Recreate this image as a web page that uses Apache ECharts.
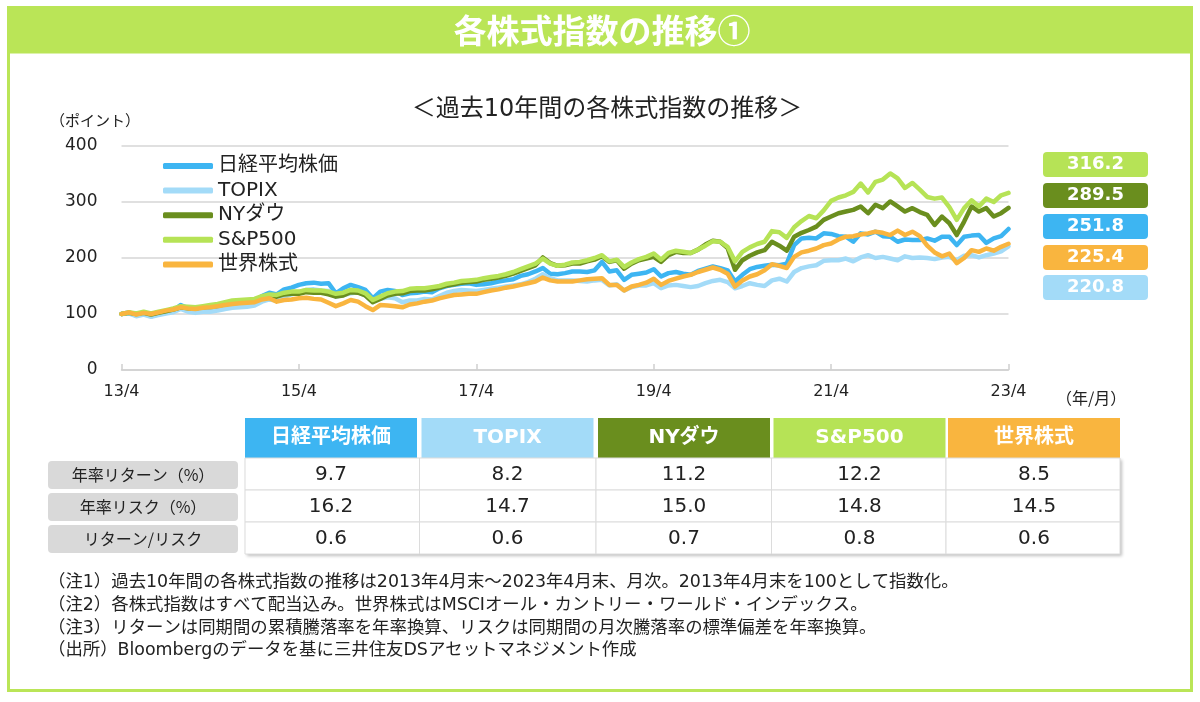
<!DOCTYPE html>
<html><head><meta charset="utf-8">
<script src="https://cdn.jsdelivr.net/npm/echarts@6/dist/echarts.min.js"></script>
<style>html,body{margin:0;padding:0;background:#fff}#c{width:1200px;height:702px}</style>
</head><body><div id="c"></div>
<script>
// ---- data ----
const seriesNames = ['日経平均株価','TOPIX','NYダウ','S&P500','世界株式'];
const months = [];
for (let y = 2013, m = 4; months.length < 121; ) { months.push(y + '/' + m); m++; if (m > 12) { m = 1; y++; } }

const nikkei = [100,103,97,101,96,100,103,106,116,110,
107,109,108,110,113,118,119,120,122,132,
138,135,144,147,152,155,156,154,155,137,
146,152,148,143,128,140,143,141,134,137,
138,140,139,146,150,152,154,155,152,153,
155,158,160,162,168,171,176,182,172,171,
173,176,176,175,178,193,176,178,161,170,
172,174,180,167,173,175,172,170,177,181,
185,182,178,158,170,180,184,186,188,187,
190,223,235,236,235,244,243,239,238,229,
244,242,247,239,238,229,233,232,232,235,
231,238,238,223,238,240,241,227,235,239,
251.8];
const topix = [100,101,96,99,95,98,101,103,109,104,
102,104,104,106,109,111,112,113,115,122,
126,124,131,135,139,143,144,142,141,131,
134,137,139,133,124,127,130,128,121,124,
124,127,126,132,138,141,143,142,141,143,
145,147,149,151,153,157,163,171,164,160,
160,160,159,158,160,161,151,153,142,148,
151,151,155,146,151,152,150,148,150,155,
159,161,157,146,150,155,152,150,160,163,
158,175,182,185,187,195,196,196,199,194,
201,205,200,202,199,196,203,200,201,200,
198,201,202,196,204,205,201,205,208,212,
220.8];
const nyDow = [100,102,100,102,99,102,105,108,112,110,
110,112,114,116,118,121,121,122,124,129,
132,131,135,136,136,139,138,138,135,131,
133,139,138,133,121,127,133,136,137,141,
142,142,144,147,151,153,156,157,158,161,
163,165,168,172,177,182,187,201,191,186,
187,190,190,194,197,203,193,196,181,190,
196,199,202,193,205,211,209,209,215,224,
231,229,218,179,196,204,210,214,229,222,
213,238,245,250,256,268,274,280,283,286,
292,280,295,289,301,292,283,289,282,277,
259,274,262,241,265,292,283,289,274,280,
289.5];
const sp500 = [100,103,101,104,101,104,107,110,114,113,
112,114,116,118,121,124,125,126,127,132,
135,134,138,140,140,143,142,142,140,136,
138,143,142,137,125,131,137,140,141,145,
146,146,148,150,154,156,159,160,161,164,
166,168,171,175,180,185,190,199,190,186,
188,192,193,196,200,205,194,197,184,192,
198,202,208,197,209,213,211,209,215,222,
230,229,220,194,211,219,225,229,248,246,
236,255,266,275,271,285,302,308,312,318,
333,317,336,340,351,342,325,334,322,309,
306,308,291,268,289,303,292,306,300,312,
316.2];
const world = [100,103,99,102,100,103,106,108,112,110,
109,111,112,114,116,118,119,120,121,126,
128,122,125,126,128,129,127,126,120,114,
119,125,122,114,107,116,115,114,112,117,
119,122,124,128,131,134,135,136,136,139,
142,144,147,149,152,155,158,165,160,158,
158,158,160,162,163,164,152,152,142,149,
152,156,163,152,159,163,167,170,175,179,
183,179,172,149,160,167,171,178,189,186,
182,202,210,213,217,223,226,233,238,239,
242,244,247,245,241,249,241,247,239,222,
210,203,208,191,200,214,211,217,213,220,
225.4];
const seriesData = [nikkei, topix, nyDow, sp500, world];
const colors = ['#3db5f2','#a3dbf8','#6a8e1e','#b6e356','#f9b53f'];

const yTicks = [0,100,200,300,400];
const annualReturn = [9.7, 8.2, 11.2, 12.2, 8.5];
const annualRisk = [16.2, 14.7, 15.0, 14.8, 14.5];
const returnRisk = [0.6, 0.6, 0.7, 0.8, 0.6];
const rowLabels = ['年率リターン（%）','年率リスク（%）','リターン/リスク'];
const notes = [
  '（注1）過去10年間の各株式指数の推移は2013年4月末～2023年4月末、月次。2013年4月末を100として指数化。',
  '（注2）各株式指数はすべて配当込み。世界株式はMSCIオール・カントリー・ワールド・インデックス。',
  '（注3）リターンは同期間の累積騰落率を年率換算、リスクは同期間の月次騰落率の標準偏差を年率換算。',
  '（出所）Bloombergのデータを基に三井住友DSアセットマネジメント作成'
];

// ---- layout ----
const LATIN = "'DejaVu Sans','Noto Sans CJK JP',sans-serif";
const CJK = "'Noto Sans CJK JP','DejaVu Sans',sans-serif";
const GREEN = '#bae557';
const gfx = [];
gfx.push({type:'rect', shape:{x:7,y:6,width:1186,height:47}, style:{fill:GREEN}, z:1});
gfx.push({type:'rect', shape:{x:8.5,y:52,width:1183,height:638.5}, style:{fill:null,stroke:GREEN,lineWidth:3}, z:1});
gfx.push({type:'text', x:602, y:30, style:{text:'各株式指数の推移①', fill:'#fff', font:'bold 33px ' + CJK, align:'center', verticalAlign:'middle'}, z:2});
gfx.push({type:'text', x:607, y:110, style:{text:'＜過去10年間の各株式指数の推移＞', fill:'#222', font:'24px ' + LATIN, align:'center', verticalAlign:'middle'}, z:2});
gfx.push({type:'text', x:50, y:120, style:{text:'（ポイント）', fill:'#222', font:'15px ' + CJK, align:'left', verticalAlign:'middle'}, z:2});
gfx.push({type:'text', x:1056, y:398, style:{text:'（年/月）', fill:'#222', font:'16px ' + CJK, align:'left', verticalAlign:'middle'}, z:2});

// end value labels sorted by last value
const order = seriesData.map((d,i)=>i).sort((a,b)=>seriesData[b][120]-seriesData[a][120]);
const labelTops = [152,183,214,245,275];
order.forEach((si,k)=>{
  gfx.push({type:'rect', shape:{x:1043,y:labelTops[k],width:105,height:25,r:4}, style:{fill:colors[si]}, z:2});
  gfx.push({type:'text', x:1095.5, y:labelTops[k]+12.5, style:{text:seriesData[si][120].toFixed(1), fill:'#fff', font:'bold 18px ' + LATIN, align:'center', verticalAlign:'middle'}, z:3});
});

// table
const colX = [245,421.5,598,773.5,948];
const colW = 172;
const rowY = [458,490,522];
const rowH = 32;
gfx.push({type:'rect', shape:{x:245,y:458,width:875,height:96}, style:{fill:'#fff', shadowBlur:3, shadowOffsetX:2, shadowOffsetY:2, shadowColor:'rgba(0,0,0,0.25)'}, z:1});
seriesNames.forEach((n,i)=>{
  gfx.push({type:'rect', shape:{x:colX[i],y:418,width:colW,height:40}, style:{fill:colors[i]}, z:2});
  gfx.push({type:'text', x:colX[i]+colW/2, y:438, style:{text:n, fill:'#fff', font:'bold 20px ' + LATIN, align:'center', verticalAlign:'middle'}, z:3});
});
const tableRows = [annualReturn, annualRisk, returnRisk];
tableRows.forEach((row,r)=>{
  gfx.push({type:'rect', shape:{x:48,y:rowY[r]+3,width:190,height:28,r:4}, style:{fill:'#d9d9d9'}, z:2});
  gfx.push({type:'text', x:143, y:rowY[r]+17, style:{text:rowLabels[r], fill:'#222', font:'16px ' + CJK, align:'center', verticalAlign:'middle'}, z:3});
  row.forEach((v,i)=>{
    const x0 = i===0 ? 245 : colX[i]-2;
    const x1 = i===4 ? 1120 : colX[i+1]-2;
    gfx.push({type:'rect', shape:{x:x0,y:rowY[r],width:x1-x0,height:rowH}, style:{fill:'#fff',stroke:'#dcdcdc',lineWidth:1}, z:2});
    gfx.push({type:'text', x:colX[i]+colW/2, y:rowY[r]+17, style:{text:v.toFixed(1), fill:'#222', font:'20px ' + LATIN, align:'center', verticalAlign:'middle'}, z:3});
  });
});
// notes
const noteY = [582,605,628,650];
notes.forEach((t,i)=>{
  gfx.push({type:'text', x:48, y:noteY[i], style:{text:t, fill:'#222', font:'17.4px ' + LATIN, align:'left', verticalAlign:'middle'}, z:2});
});

const chart = echarts.init(document.getElementById('c'), null, {renderer:'canvas'});
chart.setOption({
  animation:false,
  backgroundColor:'#fff',
  grid:{left:121.5, top:146, width:887, height:224, containLabel:false},
  legend:{
    data:seriesNames, orient:'vertical', left:158, top:151,
    itemWidth:50, itemHeight:6, icon:'roundRect', itemGap:4.6,
    textStyle:{fontSize:20, color:'#222', lineHeight:20, fontFamily:LATIN}
  },
  xAxis:{
    type:'category', data:months, boundaryGap:false,
    axisLine:{lineStyle:{color:'#d0d0d0', width:1.5}},
    axisTick:{inside:true, length:6, interval:(i)=>i%24===0, lineStyle:{color:'#d0d0d0', width:1.5}},
    axisLabel:{interval:(i)=>i%24===0, margin:14, fontSize:16, color:'#222', fontFamily:LATIN,
      formatter:(v)=>{const p=v.split('/'); return p[0].slice(2)+'/'+p[1];}}
  },
  yAxis:{
    type:'value', min:yTicks[0], max:yTicks[yTicks.length-1], interval:100,
    axisLine:{show:false}, axisTick:{show:false},
    splitLine:{lineStyle:{color:'#d6d6d6', width:1.5}},
    axisLabel:{margin:24, fontSize:17, color:'#222', fontFamily:LATIN}
  },
  series: seriesNames.map((n,i)=>({
    name:n, type:'line', data:seriesData[i], showSymbol:false, symbol:'none',
    itemStyle:{color:colors[i]},
    lineStyle:{color:colors[i], width:4.5, cap:'round', join:'round'},
    z:2+i
  })),
  graphic:gfx
});
</script>
</body></html>
